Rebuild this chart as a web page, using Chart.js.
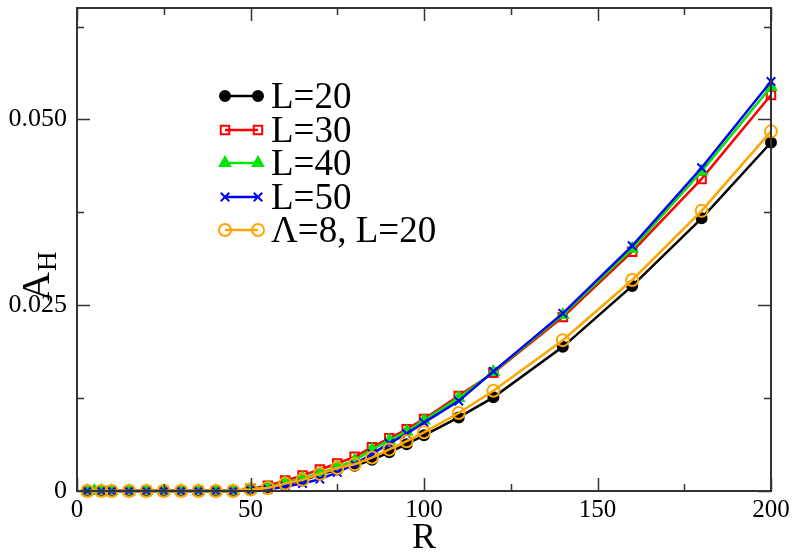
<!DOCTYPE html>
<html>
<head>
<meta charset="utf-8">
<script src="https://cdn.jsdelivr.net/npm/chart.js@4/dist/chart.umd.min.js"></script>
<style>
html,body{margin:0;padding:0;background:#fff;}
#wrap{width:797px;height:554px;position:relative;}
</style>
</head>
<body>
<div id="wrap"><canvas id="c" width="797" height="554"></canvas></div>
<script>
// ---- data ----
const rValues = [3, 7, 10, 15, 20, 25, 30, 35, 40, 45, 50, 55, 60, 65, 70, 75, 80, 85, 90, 95, 100, 110, 120, 140, 160, 180, 200];
const rValuesL40 = [3, 5, 7, 10, 15, 20, 25, 30, 35, 40, 45, 50, 55, 60, 65, 70, 75, 80, 85, 90, 95, 100, 110, 120, 140, 160, 180, 200];
const seriesL20 = [0,0,0,0,0,0,0,0,0,0, 0.0002,0.0004,0.0009,0.0014,0.0022,0.0029,0.0034,0.0042,0.0052,0.0063,0.0075,0.0099,0.0126,0.0194,0.0276,0.0367,0.0469];
const seriesL30 = [0,0,0,0,0,0,0,0,0,0, 0.0003,0.0007,0.0014,0.0021,0.0029,0.0037,0.0046,0.0059,0.0071,0.0083,0.0097,0.0128,0.0159,0.0234,0.0322,0.0420,0.0533];
const seriesL40 = [0,0,0,0,0,0,0,0,0,0,0, 0.0002,0.0005,0.0011,0.0017,0.0024,0.0032,0.0041,0.0056,0.0068,0.0080,0.0095,0.0125,0.0160,0.0237,0.0326,0.0430,0.0544];
const seriesL50 = [0,0,0,0,0,0,0,0,0,0, 0.0001,0.0002,0.0006,0.0010,0.0016,0.0025,0.0036,0.0050,0.0064,0.0077,0.0092,0.0121,0.0161,0.0239,0.0330,0.0435,0.0551];
const seriesLam8 = [0,0,0,0,0,0,0,0,0,0, 0.0002,0.0004,0.0010,0.0015,0.0023,0.0031,0.0036,0.0045,0.0056,0.0067,0.0079,0.0105,0.0135,0.0203,0.0284,0.0377,0.0484];
const seriesLabels = ['L=20', 'L=30', 'L=40', 'L=50', 'Λ=8, L=20'];
const xMajorTicks = [0, 50, 100, 150, 200];
const xMinorTicks = [25, 75, 125, 175];
const yMajorTicks = [0, 0.025, 0.05];
const yMinorTicks = [0.0125, 0.0375, 0.0625];
const yTickLabels = ['0', '0.025', '0.050'];
const xTitle = 'R';
const yTitleMain = 'A';
const yTitleSub = 'H';

function pts(xs, ys){ return xs.map((x,i)=>({x:x, y:ys[i]})); }

const SERIF = "'Liberation Serif', 'DejaVu Serif', serif";

const styles = [
  {color:'#000000', pointStyle:'circle', radius:5, fill:'#000000', order:4},
  {color:'#ff0000', pointStyle:'rect', radius:6, fill:'rgba(0,0,0,0)', order:3},
  {color:'#00e600', pointStyle:'triangle', radius:6, fill:'#00e600', order:2},
  {color:'#0000ff', pointStyle:'crossRot', radius:6, fill:'#0000ff', order:1},
  {color:'#ffa500', pointStyle:'circle', radius:6, fill:'rgba(0,0,0,0)', order:0}
];
const dataSets = [pts(rValues, seriesL20), pts(rValues, seriesL30), pts(rValuesL40, seriesL40), pts(rValues, seriesL50), pts(rValues, seriesLam8)];

const datasets = dataSets.map((d,i)=>({
  label: seriesLabels[i],
  data: d,
  borderColor: styles[i].color,
  backgroundColor: styles[i].fill,
  pointBackgroundColor: styles[i].fill,
  pointBorderColor: styles[i].color,
  pointStyle: styles[i].pointStyle,
  pointRadius: styles[i].radius,
  pointBorderWidth: 2,
  borderWidth: 2.5,
  tension: 0,
  fill: false,
  order: styles[i].order,
  clip: 12
}));

const framePlugin = {
  id: 'frame',
  beforeDraw(chart){
    const ctx = chart.ctx;
    ctx.save(); ctx.fillStyle = '#fff'; ctx.fillRect(0,0,chart.width,chart.height); ctx.restore();
  },
  afterDraw(chart){
    const ctx = chart.ctx;
    const a = chart.chartArea;
    const xs = chart.scales.x, ys = chart.scales.y;
    ctx.save();
    ctx.strokeStyle = '#333';
    ctx.lineWidth = 2;
    ctx.strokeRect(a.left, a.top, a.right - a.left, a.bottom - a.top);
    ctx.lineWidth = 1.5;
    ctx.beginPath();
    const drawX = (vals, len) => vals.forEach(v => {
      const px = Math.round(xs.getPixelForValue(v)) + 0.5;
      ctx.moveTo(px, a.bottom); ctx.lineTo(px, a.bottom - len);
      ctx.moveTo(px, a.top); ctx.lineTo(px, a.top + len);
    });
    const drawY = (vals, len) => vals.forEach(v => {
      const py = Math.round(ys.getPixelForValue(v)) + 0.5;
      ctx.moveTo(a.left, py); ctx.lineTo(a.left + len, py);
      ctx.moveTo(a.right, py); ctx.lineTo(a.right - len, py);
    });
    drawX(xMajorTicks, 13); drawX(xMinorTicks, 7);
    drawY(yMajorTicks, 13); drawY(yMinorTicks, 7);
    ctx.stroke();

    // axis titles
    ctx.fillStyle = '#000';
    ctx.textAlign = 'center';
    ctx.textBaseline = 'middle';
    ctx.font = '36px ' + SERIF;
    ctx.fillText(xTitle, (a.left + a.right)/2, 539);

    ctx.save();
    ctx.translate(49, 301);
    ctx.rotate(-Math.PI/2);
    ctx.textAlign = 'left';
    ctx.textBaseline = 'alphabetic';
    ctx.font = '40px ' + SERIF;
    ctx.fillText(yTitleMain, 0, 0);
    const w = ctx.measureText(yTitleMain).width;
    ctx.font = '27px ' + SERIF;
    ctx.fillText(yTitleSub, w + 1, 7);
    ctx.restore();

    // legend
    const x0 = 225, x1 = 258, tx = 271;
    const rowY = [96, 130, 163, 197, 230];
    chart.data.datasets.forEach((ds, i) => {
      const y = rowY[i];
      ctx.strokeStyle = ds.borderColor;
      ctx.lineWidth = ds.borderWidth;
      ctx.beginPath(); ctx.moveTo(x0, y); ctx.lineTo(x1, y); ctx.stroke();
      ctx.fillStyle = ds.pointBackgroundColor;
      ctx.strokeStyle = ds.pointBorderColor;
      ctx.lineWidth = ds.pointBorderWidth;
      const opt = {pointStyle: ds.pointStyle, radius: ds.pointRadius, rotation: 0, borderWidth: ds.pointBorderWidth};
      Chart.helpers.drawPoint(ctx, opt, x0, y);
      Chart.helpers.drawPoint(ctx, opt, x1, y);
      ctx.fillStyle = '#000';
      ctx.font = '37px ' + SERIF;
      ctx.textAlign = 'left';
      ctx.textBaseline = 'middle';
      ctx.fillText(ds.label, tx, y + 2);
    });
    ctx.restore();
  }
};

new Chart(document.getElementById('c'), {
  type: 'line',
  data: { datasets },
  options: {
    responsive: false,
    animation: false,
    devicePixelRatio: 1,
    layout: { padding: { top: 7, right: 26, left: 0, bottom: 0 } },
    plugins: { legend: { display: false }, tooltip: { enabled: false } },
    scales: {
      x: {
        type: 'linear', min: 0, max: 200,
        grid: { display: false, drawTicks: false },
        border: { display: false },
        afterFit(s){ s.height = 63; s.paddingLeft = 0; s.paddingRight = 0; },
        afterBuildTicks(s){ s.ticks = xMajorTicks.map(v => ({value: v})); },
        ticks: {
          padding: 4, color: '#000', maxRotation: 0, autoSkip: false,
          font: { family: SERIF, size: 25 },
          callback: (v) => String(v)
        }
      },
      y: {
        type: 'linear', min: 0, max: 0.065,
        grid: { display: false, drawTicks: false },
        border: { display: false },
        afterFit(s){ s.width = 77; s.paddingTop = 0; s.paddingBottom = 0; },
        afterBuildTicks(s){ s.ticks = yMajorTicks.map(v => ({value: v})); },
        ticks: {
          padding: 10, color: '#000', autoSkip: false,
          font: { family: SERIF, size: 26 },
          callback: (v) => { const k = yMajorTicks.findIndex(t => Math.abs(t - v) < 1e-9); return k >= 0 ? yTickLabels[k] : ''; }
        }
      }
    }
  },
  plugins: [framePlugin]
});
</script>
</body>
</html>
